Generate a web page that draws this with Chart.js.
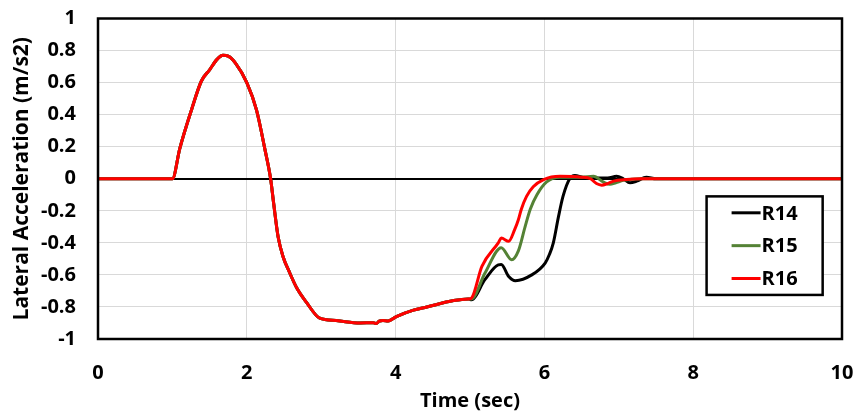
<!DOCTYPE html>
<html>
<head>
<meta charset="utf-8">
<script src="https://cdn.jsdelivr.net/npm/chart.js@4/dist/chart.umd.min.js"></script>
<style>
  html, body { margin: 0; padding: 0; background: #fff; }
  #wrap { width: 861px; height: 417px; position: relative; }
</style>
</head>
<body>
<div id="wrap"><canvas id="c" width="861" height="417"></canvas></div>
<script>
// ---- Data ----
const seriesLabels = ['R14', 'R15', 'R16'];
const seriesColors = ['#000000', '#548235', '#ff0000'];

// shared part of the run (all three series coincide up to ~5 s)
const commonTime  = [0, 1.0, 1.1, 1.25, 1.39, 1.5, 1.6, 1.68, 1.75, 1.85, 2.0, 2.13, 2.245, 2.32, 2.36, 2.42, 2.49, 2.57, 2.67, 2.8, 2.98, 3.2, 3.52, 3.7, 3.74, 3.78, 3.83, 3.9, 4.01, 4.24, 4.42, 4.78, 4.98];
const commonValue = [0, 0, 0.19, 0.42, 0.61, 0.68, 0.745, 0.77, 0.765, 0.72, 0.60, 0.43, 0.18, 0, -0.15, -0.36, -0.49, -0.58, -0.68, -0.77, -0.87, -0.885, -0.90, -0.898, -0.903, -0.889, -0.884, -0.887, -0.86, -0.82, -0.80, -0.76, -0.75];

// individual parts after ~5 s
const r14Time  = [5.02, 5.2, 5.38, 5.42, 5.52, 5.61, 5.83, 6.01, 6.07, 6.12, 6.19, 6.25, 6.34, 6.41, 6.52, 6.7, 6.85, 6.97, 7.06, 7.15, 7.24, 7.37, 7.5, 10];
const r14Value = [-0.755, -0.63, -0.537, -0.535, -0.61, -0.636, -0.60, -0.526, -0.47, -0.40, -0.235, -0.11, 0, 0.02, 0.008, 0.005, 0.005, 0.015, 0, -0.025, -0.015, 0.01, 0, 0];

const r15Time  = [5.02, 5.2, 5.42, 5.56, 5.65, 5.74, 5.81, 5.9, 6.03, 6.21, 6.5, 6.66, 6.79, 6.88, 6.96, 7.06, 7.3, 10];
const r15Value = [-0.75, -0.59, -0.43, -0.505, -0.45, -0.30, -0.19, -0.10, -0.02, 0.01, 0.01, 0.015, -0.02, -0.035, -0.025, -0.01, 0, 0];

const r16Time  = [5.02, 5.16, 5.38, 5.42, 5.52, 5.6, 5.65, 5.69, 5.76, 5.85, 5.99, 6.21, 6.5, 6.62, 6.7, 6.77, 6.85, 6.93, 7.1, 7.3, 10];
const r16Value = [-0.745, -0.547, -0.40, -0.37, -0.39, -0.318, -0.256, -0.19, -0.11, -0.05, -0.005, 0.015, 0.01, 0.0, -0.03, -0.04, -0.03, -0.015, -0.005, 0, 0];

const xTicks = [0, 2, 4, 6, 8, 10];
const yTicks = [-1, -0.8, -0.6, -0.4, -0.2, 0, 0.2, 0.4, 0.6, 0.8, 1];

function buildPoints(t, v) {
  const pts = commonTime.map((x, i) => ({ x: x, y: commonValue[i] }));
  t.forEach((x, i) => pts.push({ x: x, y: v[i] }));
  return pts;
}
const tails = [[r14Time, r14Value], [r15Time, r15Value], [r16Time, r16Value]];

const datasets = seriesLabels.map((lab, i) => ({
  label: lab,
  data: buildPoints(tails[i][0], tails[i][1]),
  borderColor: seriesColors[i],
  backgroundColor: seriesColors[i],
  borderWidth: 3,
  pointRadius: 0,
  fill: false,
  cubicInterpolationMode: 'monotone',
  order: 3 - i
}));

const FONT = '"Open Sans", Lato, sans-serif';

const framePlugin = {
  id: 'frame',
  afterDatasetsDraw(chart) {
    const { ctx, chartArea: a } = chart;
    ctx.save();
    ctx.strokeStyle = '#000';
    ctx.lineWidth = 2.5;
    ctx.strokeRect(a.left, a.top, a.right - a.left, a.bottom - a.top);
    ctx.restore();
  }
};

const legendBoxPlugin = {
  id: 'legendBox',
  afterDraw(chart) {
    const { ctx } = chart;
    const xs = chart.scales.x, ys = chart.scales.y;
    const left = xs.getPixelForValue(8.18), right = xs.getPixelForValue(9.74);
    const top = ys.getPixelForValue(-0.11), bottom = ys.getPixelForValue(-0.725);
    ctx.save();
    ctx.fillStyle = '#fff';
    ctx.fillRect(left, top, right - left, bottom - top);
    ctx.strokeStyle = '#000';
    ctx.lineWidth = 2.5;
    ctx.strokeRect(left, top, right - left, bottom - top);
    const rowH = (bottom - top) / 3;
    ctx.font = 'bold 20px ' + FONT;
    ctx.textBaseline = 'middle';
    ctx.textAlign = 'left';
    seriesLabels.forEach((lab, i) => {
      const y = top + rowH * (i + 0.5);
      ctx.strokeStyle = seriesColors[i];
      ctx.lineWidth = 3;
      ctx.beginPath();
      ctx.moveTo(left + 25, y);
      ctx.lineTo(left + 54, y);
      ctx.stroke();
      ctx.fillStyle = '#000';
      ctx.fillText(lab, left + 55, y + 1);
    });
    ctx.restore();
  }
};

new Chart(document.getElementById('c'), {
  type: 'line',
  data: { datasets: datasets },
  options: {
    responsive: false,
    animation: false,
    layout: { padding: { top: 18.5, right: 19, bottom: 0, left: 0 } },
    plugins: { legend: { display: false }, tooltip: { enabled: false } },
    scales: {
      x: {
        type: 'linear',
        min: 0, max: 10,
        afterBuildTicks(s) { s.ticks = xTicks.map(v => ({ value: v })); },
        afterFit(s) { s.height = 78; s.paddingLeft = 0; s.paddingRight = 0; },
        grid: { color: '#d9d9d9', lineWidth: 1, drawTicks: false },
        border: { display: false },
        ticks: { padding: 22, color: '#000', font: { family: FONT, size: 20, weight: 'bold' }, maxRotation: 0 },
        title: { display: true, text: 'Time (sec)', color: '#000', font: { family: FONT, size: 20, weight: 'bold' }, padding: { top: 0, bottom: 4 } }
      },
      y: {
        type: 'linear',
        min: -1, max: 1,
        afterBuildTicks(s) { s.ticks = yTicks.map(v => ({ value: v })); },
        afterFit(s) { s.width = 98; s.paddingTop = 0; s.paddingBottom = 0; },
        grid: {
          color: c => (c.tick && Math.abs(c.tick.value) < 1e-9) ? '#000' : '#d9d9d9',
          lineWidth: c => (c.tick && Math.abs(c.tick.value) < 1e-9) ? 2 : 1,
          drawTicks: false
        },
        border: { display: false },
        ticks: {
          padding: 22, color: '#000', font: { family: FONT, size: 20, weight: 'bold' },
          callback: v => String(Math.round(v * 10) / 10)
        },
        title: { display: true, text: 'Lateral Acceleration (m/s2)', color: '#000', font: { family: FONT, size: 21, weight: 'bold' }, padding: { top: 9, bottom: 0 } }
      }
    }
  },
  plugins: [framePlugin, legendBoxPlugin]
});
</script>
</body>
</html>
